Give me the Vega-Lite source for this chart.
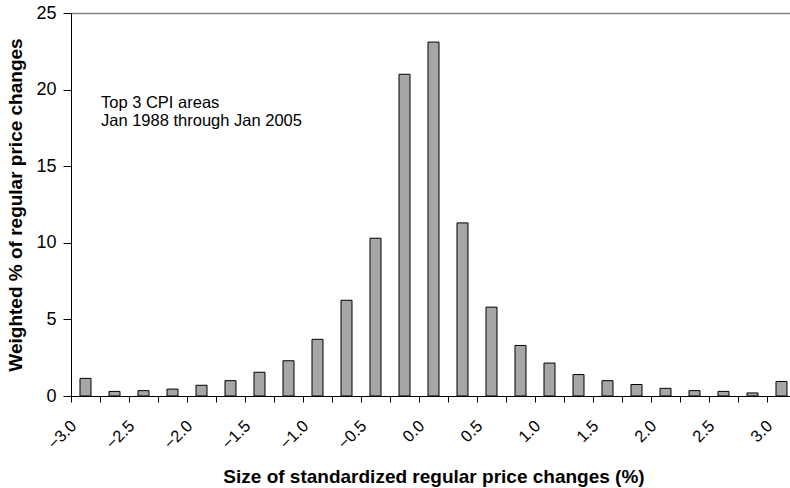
{
  "$schema": "https://vega.github.io/schema/vega-lite/v6.json",
  "width": 719,
  "height": 383,
  "autosize": "none",
  "padding": {"left": 71, "top": 13, "right": 0, "bottom": 92},
  "background": "white",
  "config": {
    "view": {"stroke": null},
    "font": "Liberation Sans",
    "axis": {"labelFont": "Liberation Sans", "titleFont": "Liberation Sans", "labelColor": "#000", "titleColor": "#000", "domainColor": "#000", "tickColor": "#000"}
  },
  "layer": [
    {
      "data": {
        "values": [
          {"x": -3.0, "pct": 1.15},
          {"x": -2.75, "pct": 0.3},
          {"x": -2.5, "pct": 0.35},
          {"x": -2.25, "pct": 0.45},
          {"x": -2.0, "pct": 0.7},
          {"x": -1.75, "pct": 1.0},
          {"x": -1.5, "pct": 1.55},
          {"x": -1.25, "pct": 2.3},
          {"x": -1.0, "pct": 3.7},
          {"x": -0.75, "pct": 6.25},
          {"x": -0.5, "pct": 10.3},
          {"x": -0.25, "pct": 21.0},
          {"x": 0.0, "pct": 23.1},
          {"x": 0.25, "pct": 11.3},
          {"x": 0.5, "pct": 5.8},
          {"x": 0.75, "pct": 3.3},
          {"x": 1.0, "pct": 2.15},
          {"x": 1.25, "pct": 1.4},
          {"x": 1.5, "pct": 1.0},
          {"x": 1.75, "pct": 0.75},
          {"x": 2.0, "pct": 0.5},
          {"x": 2.25, "pct": 0.35},
          {"x": 2.5, "pct": 0.3},
          {"x": 2.75, "pct": 0.2},
          {"x": 3.0, "pct": 0.95}
        ]
      },
      "mark": {"type": "bar", "fill": "#a6a6a6", "stroke": "#000", "strokeWidth": 1, "width": {"band": 0.38}},
      "encoding": {
        "x": {
          "field": "x",
          "type": "ordinal",
          "scale": {"range": [0, 725], "paddingInner": 0, "paddingOuter": 0},
          "axis": {
            "title": "Size of standardized regular price changes (%)",
            "titleFontSize": 19,
            "titleFontWeight": "bold",
            "titleY": 86,
            "titleBaseline": "alphabetic",
            "bandPosition": 0,
            "tickSize": 6,
            "labelAngle": -45,
            "labelAlign": "right",
            "labelBaseline": "middle",
            "labelOffset": -11.5,
            "labelPadding": 21,
            "labelFontSize": 16.5,
            "labelOverlap": false,
            "labelExpr": "round(datum.value*4) % 2 == 0 ? format(datum.value, '.1f') : ''",
            "domainColor": "#000",
            "grid": false
          }
        },
        "y": {
          "field": "pct",
          "type": "quantitative",
          "scale": {"domain": [0, 25], "nice": false},
          "axis": {
            "title": "Weighted % of regular price changes",
            "titleFontSize": 19,
            "titleFontWeight": "bold",
            "titleX": -50,
            "titleY": 191.5,
            "titleBaseline": "alphabetic",
            "titleAngle": -90,
            "values": [0, 5, 10, 15, 20, 25],
            "tickSize": 8,
            "labelPadding": 7,
            "labelFontSize": 18,
            "grid": true,
            "gridColor": "#808080",
            "gridWidth": 1.5,
            "gridOpacity": {"condition": {"test": "datum.value === 25", "value": 1}, "value": 0}
          }
        }
      }
    },
    {
      "data": {
        "values": [
          {"x": -2.75, "y": 18.8, "t": "Top 3 CPI areas"},
          {"x": -2.75, "y": 17.62, "t": "Jan 1988 through Jan 2005"}
        ]
      },
      "mark": {"type": "text", "align": "left", "baseline": "alphabetic", "dx": -13.5, "fontSize": 16.5, "color": "#000"},
      "encoding": {
        "x": {"field": "x", "type": "ordinal"},
        "y": {"field": "y", "type": "quantitative"},
        "text": {"field": "t"}
      }
    }
  ]
}
